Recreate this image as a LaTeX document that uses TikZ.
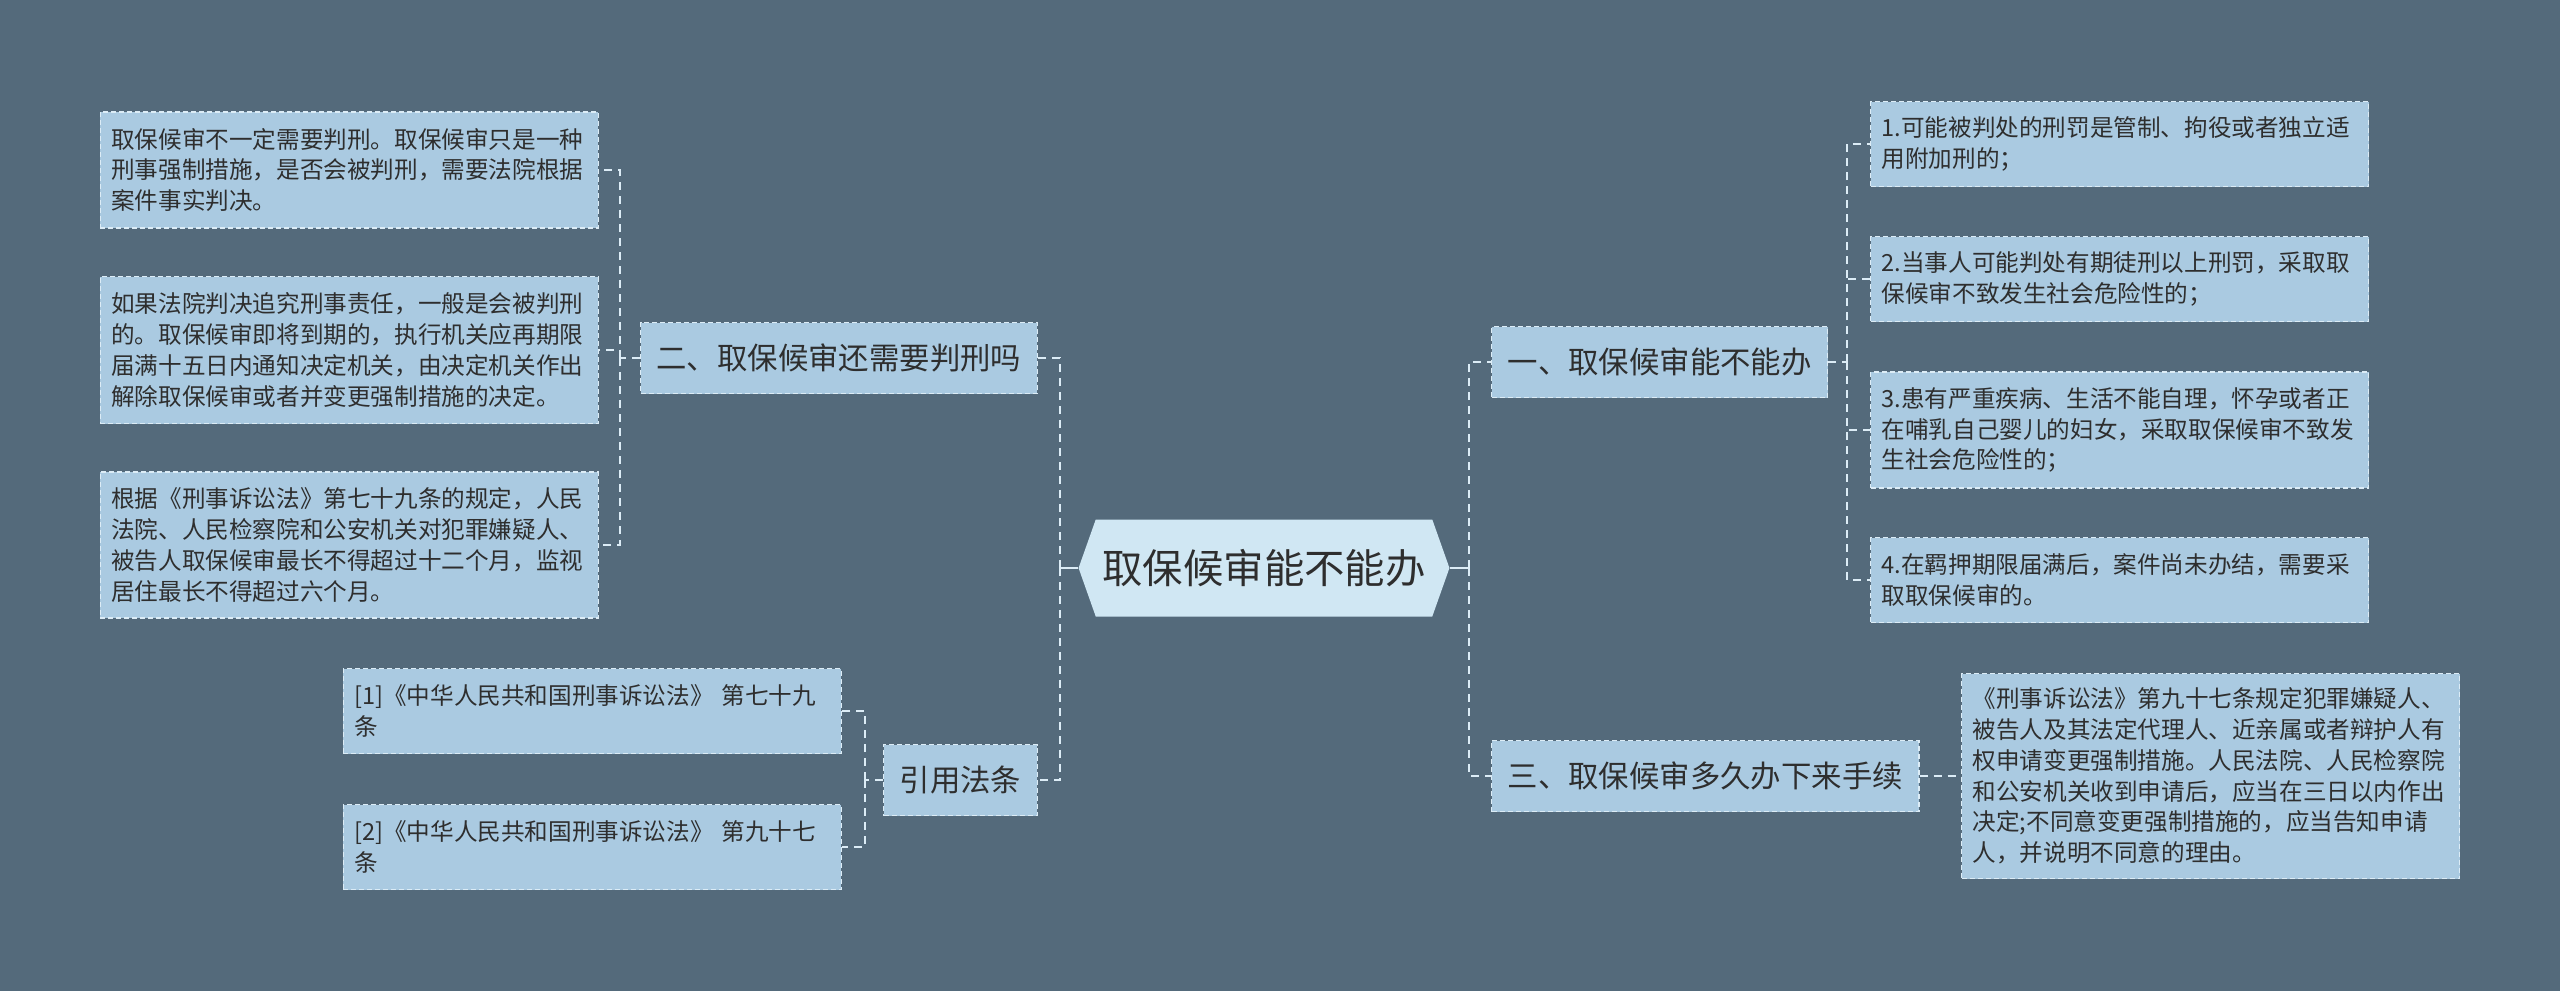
\documentclass[tikz,border=0pt]{standalone}
\usepackage{fontspec}
\setmainfont{Noto Sans CJK SC}
\usetikzlibrary{shapes.symbols}

\definecolor{bg}{HTML}{546A7B}
\definecolor{leaffill}{HTML}{AACAE1}
\definecolor{rootfill}{HTML}{D0E7F3}
\definecolor{edge}{HTML}{DCECF6}
\definecolor{ink}{HTML}{2E2E2E}

\tikzset{
  leaf/.style={draw=edge, fill=leaffill, line width=0.7pt, dash pattern=on 2.5pt off 1.5pt,
    text=ink, text width=238pt, inner xsep=5.5pt, inner ysep=2pt, align=left,
    minimum height=#1, font=\fontsize{11.8pt}{15.4pt}\selectfont},
  topic/.style={draw=edge, fill=leaffill, line width=0.7pt, dash pattern=on 2.5pt off 1.5pt,
    text=ink, inner xsep=8pt, minimum height=35.5pt, font=\fontsize{15.2pt}{18pt}\selectfont},
  rootnode/.style={signal, signal to=west and east, signal pointer angle=141,
    fill=rootfill, text=ink, minimum width=184pt, minimum height=48.5pt,
    font=\fontsize{20.2pt}{24pt}\selectfont},
  link/.style={draw=edge, line width=1pt, dash pattern=on 4pt off 3pt},
  rootlink/.style={draw=edge, line width=1pt},
}

\begin{document}
\begin{tikzpicture}[x=0.5pt, y=-0.5pt]
  \fill[bg] (0,0) rectangle (2560,991);
  \useasboundingbox (0,0) rectangle (2560,991);

  \node[rootnode] (root) at (1264,568) {取保候审能不能办};

  \node[topic, anchor=east] (b2) at (1038,358) {二、取保候审还需要判刑吗};
  \node[topic, anchor=east] (cite) at (1038,780) {引用法条};
  \node[topic, anchor=west] (b1) at (1491,362) {一、取保候审能不能办};
  \node[topic, anchor=west] (b3) at (1491,776) {三、取保候审多久办下来手续};

  \node[leaf=58pt, anchor=east] (l1) at (599,170)
    {取保候审不一定需要判刑。取保候审只是一种\\刑事强制措施，是否会被判刑，需要法院根据\\案件事实判决。};
  \node[leaf=73.5pt, anchor=east] (l2) at (599,350)
    {如果法院判决追究刑事责任，一般是会被判刑\\的。取保候审即将到期的，执行机关应再期限\\届满十五日内通知决定机关，由决定机关作出\\解除取保候审或者并变更强制措施的决定。};
  \node[leaf=73pt, anchor=east] (l3) at (599,545)
    {根据《刑事诉讼法》第七十九条的规定，人民\\法院、人民检察院和公安机关对犯罪嫌疑人、\\被告人取保候审最长不得超过十二个月，监视\\居住最长不得超过六个月。};

  \node[leaf=42.5pt, anchor=east] (r1) at (842,711)
    {[1]《中华人民共和国刑事诉讼法》 第七十九\\条};
  \node[leaf=42.5pt, anchor=east] (r2) at (842,847)
    {[2]《中华人民共和国刑事诉讼法》 第九十七\\条};

  \node[leaf=42.5pt, anchor=west] (s1) at (1870,144)
    {1.可能被判处的刑罚是管制、拘役或者独立适\\用附加刑的；};
  \node[leaf=42.5pt, anchor=west] (s2) at (1870,279)
    {2.当事人可能判处有期徒刑以上刑罚，采取取\\保候审不致发生社会危险性的；};
  \node[leaf=58pt, anchor=west] (s3) at (1870,430)
    {3.患有严重疾病、生活不能自理，怀孕或者正\\在哺乳自己婴儿的妇女，采取取保候审不致发\\生社会危险性的；};
  \node[leaf=42.5pt, anchor=west] (s4) at (1870,580)
    {4.在羁押期限届满后，案件尚未办结，需要采\\取取保候审的。};

  \node[leaf=102.5pt, anchor=west] (t1) at (1961,776)
    {《刑事诉讼法》第九十七条规定犯罪嫌疑人、\\被告人及其法定代理人、近亲属或者辩护人有\\权申请变更强制措施。人民法院、人民检察院\\和公安机关收到申请后，应当在三日以内作出\\决定;不同意变更强制措施的，应当告知申请\\人，并说明不同意的理由。};

  \coordinate (jl) at (1060,568);
  \coordinate (jr) at (1469,568);
  \coordinate (j2) at (620,358);
  \coordinate (jc) at (865,780);
  \coordinate (j1) at (1847,362);

  \draw[rootlink] (root.west) -- (jl);
  \draw[rootlink] (root.east) -- (jr);
  \draw[link] (jl) |- (b2.east);
  \draw[link] (jl) |- (cite.east);
  \draw[link] (jr) |- (b1.west);
  \draw[link] (jr) |- (b3.west);

  \draw[link] (b2.west) -- (j2);
  \draw[link] (j2) |- (l1.east);
  \draw[link] (j2) |- (l2.east);
  \draw[link] (j2) |- (l3.east);

  \draw[link] (cite.west) -- (jc);
  \draw[link] (jc) |- (r1.east);
  \draw[link] (jc) |- (r2.east);

  \draw[link] (b1.east) -- (j1);
  \draw[link] (j1) |- (s1.west);
  \draw[link] (j1) |- (s2.west);
  \draw[link] (j1) |- (s3.west);
  \draw[link] (j1) |- (s4.west);

  \draw[link] (b3.east) -- (t1.west);
\end{tikzpicture}
\end{document}
